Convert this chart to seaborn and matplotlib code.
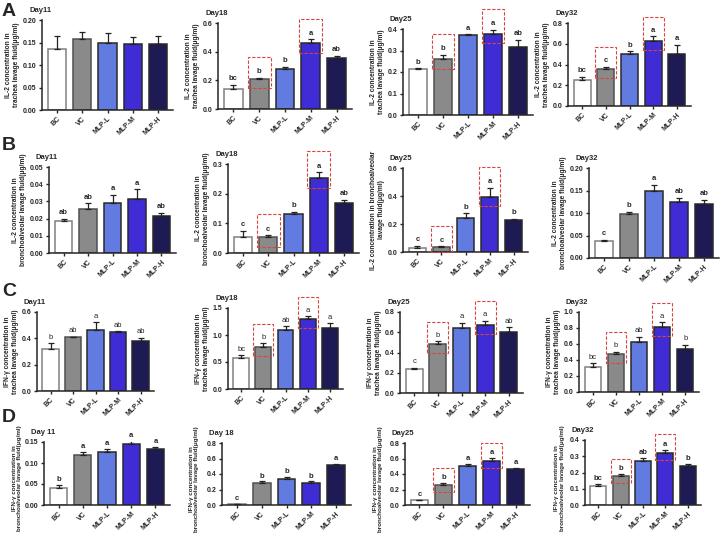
import matplotlib
matplotlib.use("Agg")
import matplotlib.pyplot as plt
from matplotlib.patches import Rectangle
import seaborn as sns
import pandas as pd

sns.set_style("ticks")
plt.rcParams['font.family'] = ['Liberation Sans', 'DejaVu Sans']

groups = ["BC", "VC", "MLP-L", "MLP-M", "MLP-H"]
colors = ["#ffffff", "#8a8a8a", "#4d6ef5", "#2b10f0", "#15105e"]
edges = ["#808080", "#505050", "#2a2a2a", "#2a2a2a", "#2a2a2a"]

days = ["Day11", "Day18", "Day25", "Day32"]
days_d = ["Day 11", "Day 18", "Day25", "Day32"]

# Row A: IL-2 trachea lavage fluid
a11_mean = [0.135, 0.158, 0.150, 0.147, 0.146]
a11_err = [0.030, 0.015, 0.021, 0.015, 0.018]
a11_let = ["", "", "", "", ""]
a18_mean = [0.14, 0.21, 0.28, 0.46, 0.355]
a18_err = [0.03, 0.006, 0.015, 0.025, 0.015]
a18_let = ["bc", "b", "b", "a", "ab"]
a25_mean = [0.215, 0.26, 0.37, 0.377, 0.315]
a25_err = [0.003, 0.02, 0.005, 0.02, 0.035]
a25_let = ["b", "b", "a", "a", "ab"]
a32_mean = [0.25, 0.355, 0.50, 0.625, 0.50]
a32_err = [0.03, 0.025, 0.03, 0.045, 0.09]
a32_let = ["bc", "c", "b", "a", "a"]

# Row B: IL-2 bronchoalveolar lavage fluid
b11_mean = [0.0185, 0.0255, 0.029, 0.0315, 0.0213]
b11_err = [0.0015, 0.0035, 0.005, 0.0055, 0.002]
b11_let = ["ab", "ab", "a", "a", "ab"]
b18_mean = [0.053, 0.053, 0.133, 0.252, 0.167]
b18_err = [0.022, 0.007, 0.006, 0.02, 0.013]
b18_let = ["c", "c", "b", "a", "ab"]
b25_mean = [0.028, 0.035, 0.243, 0.395, 0.228]
b25_err = [0.015, 0.005, 0.035, 0.065, 0.01]
b25_let = ["c", "c", "b", "a", "b"]
b32_mean = [0.038, 0.098, 0.149, 0.125, 0.120]
b32_err = [0.002, 0.004, 0.013, 0.008, 0.01]
b32_let = ["c", "b", "a", "ab", "ab"]

# Row C: IFN-gamma trachea lavage fluid
c11_mean = [0.32, 0.41, 0.465, 0.445, 0.38]
c11_err = [0.045, 0.003, 0.06, 0.008, 0.025]
c11_let = ["b", "ab", "a", "ab", "ab"]
c18_mean = [0.57, 0.78, 1.10, 1.30, 1.13]
c18_err = [0.06, 0.07, 0.06, 0.05, 0.09]
c18_let = ["bc", "b", "ab", "a", "a"]
c25_mean = [0.24, 0.48, 0.645, 0.675, 0.605]
c25_err = [0.01, 0.03, 0.05, 0.04, 0.045]
c25_let = ["c", "b", "a", "a", "ab"]
c32_mean = [0.31, 0.47, 0.62, 0.81, 0.535]
c32_err = [0.05, 0.035, 0.07, 0.06, 0.055]
c32_let = ["bc", "b", "ab", "a", "b"]

# Row D: IFN-gamma bronchoalveolar lavage fluid
d11_mean = [0.04, 0.12, 0.127, 0.145, 0.133]
d11_err = [0.007, 0.006, 0.007, 0.007, 0.005]
d11_let = ["b", "a", "a", "a", "a"]
d18_mean = [0.01, 0.29, 0.33, 0.29, 0.51]
d18_err = [0.003, 0.015, 0.03, 0.015, 0.015]
d18_let = ["c", "b", "b", "b", "a"]
d25_mean = [0.06, 0.26, 0.50, 0.57, 0.46]
d25_err = [0.005, 0.02, 0.03, 0.04, 0.02]
d25_let = ["c", "b", "a", "a", "a"]
d32_mean = [0.12, 0.18, 0.27, 0.32, 0.24]
d32_err = [0.008, 0.01, 0.02, 0.02, 0.015]
d32_let = ["bc", "b", "ab", "a", "b"]

ylab_a = "IL-2 concentration in\ntrachea lavage fluid(μg/ml)"
ylab_b = "IL-2 concentration in\nbronchoalveolar lavage fluid(μg/ml)"
ylab_b3 = "IL-2 concentration in bronchoalveolar\nlavage fluid(μg/ml)"
ylab_c = "IFN-γ concentration in\ntrachea lavage fluid(μg/ml)"
ylab_d = "IFN-γ concentration in\nbronchoalveolar lavage fluid(μg/ml)"

# (mean, err, letters, title, ylabel, ymax, tickstep, boxes, tick decimals, pixel box l,r,t,b, bold letters)
panels = [
    (a11_mean, a11_err, a11_let, days[0], ylab_a, 0.20, 0.05, False, 2, (42, 173, 20, 110), True),
    (a18_mean, a18_err, a18_let, days[1], ylab_a, 0.6, 0.2, True, 1, (218, 352, 23, 109), True),
    (a25_mean, a25_err, a25_let, days[2], ylab_a, 0.4, 0.1, True, 1, (403, 533, 29, 115), True),
    (a32_mean, a32_err, a32_let, days[3], ylab_a, 0.8, 0.2, True, 1, (568, 691, 23, 106), True),
    (b11_mean, b11_err, b11_let, days[0], ylab_b, 0.05, 0.01, False, 2, (49, 176, 167, 253), True),
    (b18_mean, b18_err, b18_let, days[1], ylab_b, 0.3, 0.1, True, 1, (228, 359, 164, 253), True),
    (b25_mean, b25_err, b25_let, days[2], ylab_b3, 0.6, 0.2, True, 1, (403, 528, 168, 252), True),
    (b32_mean, b32_err, b32_let, days[3], ylab_b, 0.2, 0.05, False, 2, (589, 719, 168, 258), True),
    (c11_mean, c11_err, c11_let, days[0], ylab_c, 0.6, 0.2, False, 1, (37, 154, 312, 391), False),
    (c18_mean, c18_err, c18_let, days[1], ylab_c, 1.5, 0.5, True, 1, (228, 343, 308, 389), False),
    (c25_mean, c25_err, c25_let, days[2], ylab_c, 0.8, 0.2, True, 1, (400, 523, 312, 393), False),
    (c32_mean, c32_err, c32_let, days[3], ylab_c, 1.0, 0.2, True, 1, (579, 699, 312, 392), False),
    (d11_mean, d11_err, d11_let, days_d[0], ylab_d, 0.15, 0.05, False, 2, (44, 170, 442, 505), True),
    (d18_mean, d18_err, d18_let, days_d[1], ylab_d, 0.8, 0.2, False, 1, (222, 351, 443, 505), True),
    (d25_mean, d25_err, d25_let, days_d[2], ylab_d, 0.8, 0.2, True, 1, (405, 530, 443, 505), True),
    (d32_mean, d32_err, d32_let, days_d[3], ylab_d, 0.4, 0.1, True, 1, (585, 701, 440, 505), True),
]

W, H = 726, 557
fig = plt.figure(figsize=(W / 100, H / 100), dpi=100)

for mean, err, let, title, ylab, ymax, step, boxes, dec, (l, r, t, b), boldlet in panels:
    ax = fig.add_axes([l / W, 1 - b / H, (r - l) / W, (b - t) / H])
    df = pd.DataFrame({"group": groups, "value": mean})
    sns.barplot(data=df, x="group", y="value", hue="group", palette=colors,
                order=groups, hue_order=groups, width=0.72, linewidth=1.1,
                edgecolor="#333333", legend=False, ax=ax)
    for p, ec in zip(ax.patches, edges):
        p.set_edgecolor(ec)
    ax.errorbar(range(5), mean, yerr=[[0] * 5, err], fmt="none", ecolor="#222222",
                elinewidth=0.9, capsize=2.5, capthick=0.9)
    ax.set_xlim(-0.6, 4.6)
    ax.set_ylim(0, ymax)
    n = int(round(ymax / step))
    ticks = [round(i * step, 4) for i in range(n + 1)]
    ax.set_yticks(ticks)
    ax.set_yticklabels([f"{v:.{dec}f}" for v in ticks], fontsize=5, fontweight="bold")
    ax.set_xticks(range(5))
    ax.set_xticklabels(groups, rotation=45, ha="right", rotation_mode="anchor",
                       fontsize=5, fontweight="bold")
    ax.set_xlabel("")
    fs = 4.5 if ylab == ylab_d else 4.8
    ax.set_ylabel(ylab, fontsize=fs, fontweight="bold", labelpad=2, linespacing=1.1)
    if ylab == ylab_d:
        ax.yaxis.set_label_coords(-0.175, 0.42)
    ax.tick_params(axis="both", length=2.5, width=1, pad=1.5)
    sns.despine(ax=ax)
    for s in ["left", "bottom"]:
        ax.spines[s].set_linewidth(1.1)
    fig.text((l - 13) / W, 1 - (t - 6) / H, title, fontsize=5.5,
             fontweight="bold", ha="left", va="bottom")
    for i in range(5):
        if let[i]:
            ax.text(i, mean[i] + err[i] + 0.03 * ymax, let[i], ha="center", va="bottom",
                    fontsize=5.5, fontweight="bold" if boldlet else "normal")
    if boxes:
        for i in (1, 3):
            y0 = max(mean[i] - 0.11 * ymax, 0.0)
            y1 = mean[i] + err[i] + 0.24 * ymax
            ax.add_patch(Rectangle((i - 0.45, y0), 0.9, y1 - y0, fill=False,
                                   edgecolor="#d9443f", lw=0.8, ls=(0, (3, 1.5)),
                                   clip_on=False, zorder=5))

for letter, y in [("A", 12), ("B", 146), ("C", 292), ("D", 418)]:
    fig.text(2 / W, 1 - y / H, letter, fontsize=14, fontweight="bold", va="center", ha="left")

fig.savefig("out.png", dpi=100)
